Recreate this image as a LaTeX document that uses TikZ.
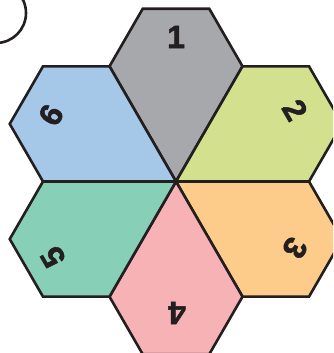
\documentclass[tikz,border=0pt]{standalone}
\usepackage{fontspec}
\setmainfont{Liberation Sans}
\newfontfamily\numfont{Liberation Sans}[BoldFeatures={FakeBold=1.6}]
\definecolor{ink}{HTML}{231F20}
\definecolor{cgray}{HTML}{A7A8AC}
\definecolor{cgreen}{HTML}{D3E08E}
\definecolor{corange}{HTML}{FDCB8A}
\definecolor{cpink}{HTML}{F7B2B6}
\definecolor{cteal}{HTML}{88CFB8}
\definecolor{cblue}{HTML}{A6C8E8}
\tikzset{
  piece/.style={draw=ink, line width=2.6pt, line join=miter},
  num/.style={font=\numfont\fontsize{32}{32}\selectfont\bfseries, text=ink, inner sep=0pt}
}
\begin{document}
\begin{tikzpicture}[x=1pt,y=1pt]
\useasboundingbox (0,0) rectangle (333,353);
\fill[white] (0,0) rectangle (333,353);
\clip (0,0) rectangle (333,353);
\coordinate (C) at (176,171.5);
\foreach \k/\col in {0/cgray,1/cgreen,2/corange,3/cpink,4/cteal,5/cblue}{
  \begin{scope}[shift={(C)}, rotate=-60*\k]
    \path[piece, fill=\col] (0,0) -- (-66.5,115.18) -- (-33.25,172.77) -- (33.25,172.77) -- (66.5,115.18) -- cycle;
  \end{scope}
}
\node[num] (n1) at (176,316) {1};
\node[num, rotate=-60] (n2) at (295,243) {2};
\node[num, rotate=-120] (n3) at (295,105) {3};
\node[num, rotate=180] (n4) at (177,40) {4};
\node[num, rotate=120] (n5) at (53,96) {5};
\node[num, rotate=60] (n6) at (51,238) {6};
\draw[ink, line width=2.6pt] (-4,340) circle[radius=30];
\end{tikzpicture}
\end{document}
